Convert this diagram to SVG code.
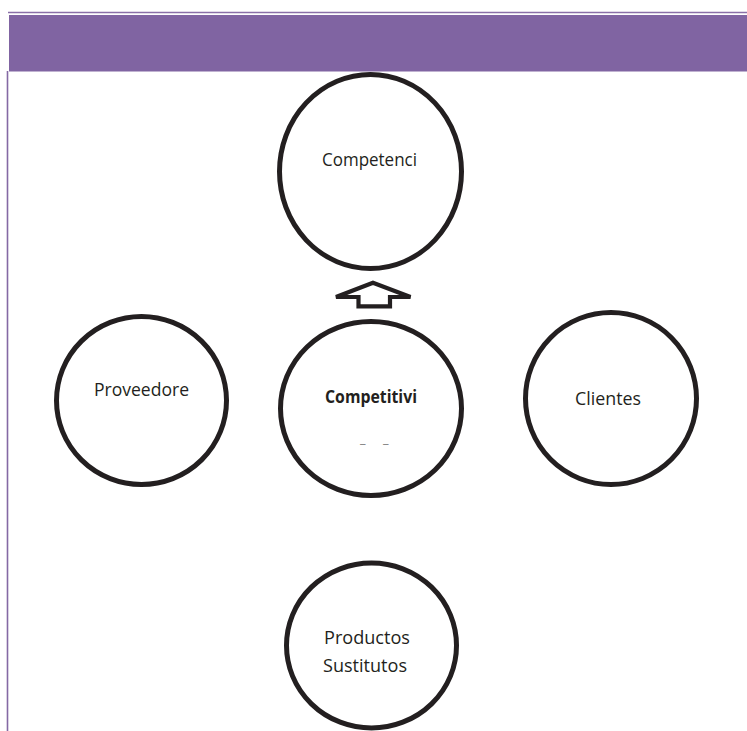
<svg xmlns="http://www.w3.org/2000/svg" width="747" height="731" viewBox="0 0 747 731">
<style>
.node{fill:#ffffff;stroke:#231f20;stroke-width:5}
.lbl{font-family:"Open Sans","Noto Sans",sans-serif;font-size:18.5px;fill:#231f20}
.bold{font-weight:bold;font-size:18px}
.dash{font-family:"Open Sans",sans-serif;font-size:13px;fill:#8a8a8a}
</style>
<rect x="0" y="0" width="747" height="731" fill="#ffffff"/>
<g id="header">
<line x1="8" y1="12.6" x2="747" y2="12.6" stroke="#8a70a8" stroke-width="1.5"/>
<rect x="9" y="15" width="738" height="56.5" fill="#8064a2"/>
<line x1="7.5" y1="71" x2="7.5" y2="731" stroke="#8469a4" stroke-width="1.6"/>
</g>
<g id="connectors">
<polygon points="373,282.8 336,297 358.5,297 358.5,306.3 390,306.3 390,297 410.5,297" fill="#ffffff" stroke="#231f20" stroke-width="4.2" stroke-linejoin="miter"/>
</g>
<g id="competencia">
<ellipse class="node" cx="370.5" cy="171.5" rx="91" ry="97"/>
<text class="lbl" x="322" y="166" textLength="95" lengthAdjust="spacingAndGlyphs">Competenci</text>
</g>
<g id="proveedores">
<ellipse class="node" cx="141.5" cy="400.5" rx="85" ry="84"/>
<text class="lbl" x="94" y="396" textLength="95" lengthAdjust="spacingAndGlyphs">Proveedore</text>
</g>
<g id="competitividad">
<ellipse class="node" cx="371" cy="408.5" rx="90.5" ry="87"/>
<text class="lbl bold" x="325" y="403" textLength="92" lengthAdjust="spacingAndGlyphs">Competitivi</text>
<text class="dash" y="447.8"><tspan x="359.5">–</tspan><tspan x="382.5">–</tspan></text>
</g>
<g id="clientes">
<ellipse class="node" cx="611" cy="398.5" rx="85.5" ry="86"/>
<text class="lbl" x="575" y="405" textLength="66" lengthAdjust="spacingAndGlyphs">Clientes</text>
</g>
<g id="productos">
<ellipse class="node" cx="371.5" cy="645.5" rx="85" ry="82.5"/>
<text class="lbl" x="324" y="644" textLength="86" lengthAdjust="spacingAndGlyphs">Productos</text>
<text class="lbl" x="323" y="672" textLength="84" lengthAdjust="spacingAndGlyphs">Sustitutos</text>
</g>
</svg>
